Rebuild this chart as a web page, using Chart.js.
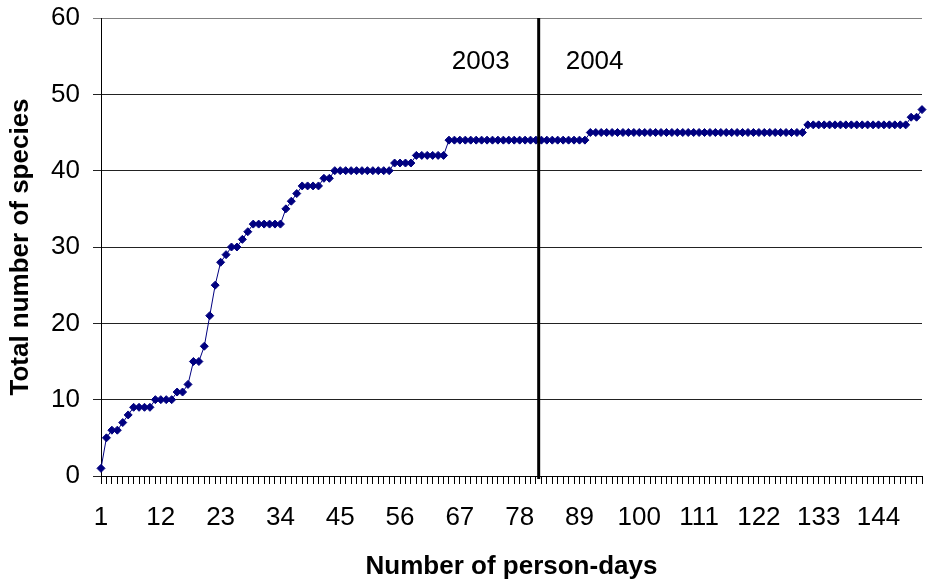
<!DOCTYPE html>
<html>
<head>
<meta charset="utf-8">
<script src="https://cdn.jsdelivr.net/npm/chart.js@4.4.1/dist/chart.umd.min.js"></script>
<style>
  html, body { margin: 0; padding: 0; background: #fff; }
  canvas { display: block; }
</style>
</head>
<body>
<canvas id="grafico" width="927" height="582"></canvas>
<script>
// días-persona 1..152 (categorías)
const dias = [];
for (let d = 1; d <= 152; d++) dias.push(String(d));

// número total de especies acumulado
const especies = [
  1, 5, 6, 6, 7, 8, 9, 9, 9, 9,
  10, 10, 10, 10, 11, 11, 12, 15, 15, 17,
  21, 25, 28, 29, 30, 30, 31, 32, 33, 33,
  33, 33, 33, 33, 35, 36, 37, 38, 38, 38,
  38, 39, 39, 40, 40, 40, 40, 40, 40, 40,
  40, 40, 40, 40, 41, 41, 41, 41, 42, 42,
  42, 42, 42, 42, 44, 44, 44, 44, 44, 44,
  44, 44, 44, 44, 44, 44, 44, 44, 44, 44,
  44, 44, 44, 44, 44, 44, 44, 44, 44, 44,
  45, 45, 45, 45, 45, 45, 45, 45, 45, 45,
  45, 45, 45, 45, 45, 45, 45, 45, 45, 45,
  45, 45, 45, 45, 45, 45, 45, 45, 45, 45,
  45, 45, 45, 45, 45, 45, 45, 45, 45, 45,
  46, 46, 46, 46, 46, 46, 46, 46, 46, 46,
  46, 46, 46, 46, 46, 46, 46, 46, 46, 47,
  47, 48
];

// separación entre años (índice de categoría, entre el día 81 y 82)
const corteAnio = 80.5;
const etiquetasAnio = ["2003", "2004"];

Chart.defaults.font.family = "'Liberation Sans', Arial, sans-serif";
Chart.defaults.color = "#000";

// 🔹 línea vertical y textos de año
const lineaAnios = {
  id: "lineaAnios",
  afterDatasetsDraw(chart) {
    const { ctx, chartArea, scales } = chart;
    const x = scales.x.getPixelForValue(corteAnio);
    ctx.save();
    ctx.strokeStyle = "#000";
    ctx.lineWidth = 3;
    ctx.beginPath();
    ctx.moveTo(x, chartArea.top);
    ctx.lineTo(x, chartArea.bottom + 3);
    ctx.stroke();
    ctx.font = "26px 'Liberation Sans', Arial, sans-serif";
    ctx.fillStyle = "#000";
    ctx.textBaseline = "middle";
    const y = scales.y.getPixelForValue(54.2);
    ctx.textAlign = "right";
    ctx.fillText(etiquetasAnio[0], x - 29, y);
    ctx.textAlign = "left";
    ctx.fillText(etiquetasAnio[1], x + 27, y);
    ctx.restore();
  }
};

const ctx = document.getElementById("grafico").getContext("2d");
new Chart(ctx, {
  type: "line",
  data: {
    labels: dias,
    datasets: [{
      data: especies,
      borderColor: "#000080",
      backgroundColor: "#000080",
      borderWidth: 1,
      pointStyle: "rectRot",
      pointRadius: 4,
      pointBorderWidth: 1,
      pointBackgroundColor: "#000080",
      pointBorderColor: "#000080",
      tension: 0,
      clip: false
    }]
  },
  options: {
    responsive: false,
    devicePixelRatio: 1,
    animation: false,
    layout: { padding: { left: 0, right: 3, top: 18, bottom: 0 } },
    plugins: { legend: { display: false }, tooltip: { enabled: false } },
    scales: {
      x: {
        type: "category",
        offset: false,
        afterFit(scale) {
          scale.height = 106;
          scale.paddingLeft = 0;
          scale.paddingRight = 0;
        },
        border: { color: "#000", width: 1 },
        grid: { drawOnChartArea: false, drawTicks: true, tickLength: 8, color: "#000" },
        ticks: {
          autoSkip: false,
          maxRotation: 0,
          padding: 18,
          font: { size: 26 },
          callback: (v, i) => (i % 11 === 0 ? dias[i] : "")
        },
        title: {
          display: true,
          text: "Number of person-days",
          font: { size: 26, weight: "bold" },
          padding: { top: 0, bottom: 0 }
        }
      },
      y: {
        min: 0,
        max: 60,
        afterFit(scale) {
          scale.width = 101;
          scale.paddingTop = 0;
          scale.paddingBottom = 0;
        },
        border: { color: "#000", width: 1 },
        grid: {
          tickLength: 8,
          color: c => (c.tick && c.tick.value === 60 ? "#808080" : "#222")
        },
        ticks: { stepSize: 10, padding: 13, font: { size: 26 } },
        title: {
          display: true,
          text: "Total number of species",
          font: { size: 26, weight: "bold" },
          padding: { top: 5, bottom: 0 }
        }
      }
    }
  },
  plugins: [lineaAnios]
});
</script>
</body>
</html>
